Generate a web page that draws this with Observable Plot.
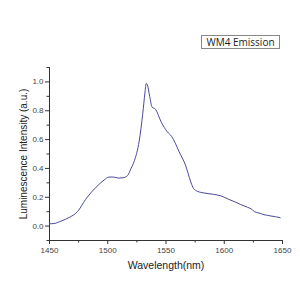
<!DOCTYPE html>
<html>
<head>
<meta charset="utf-8">
<script src="https://cdn.jsdelivr.net/npm/d3@7"></script>
<script src="https://cdn.jsdelivr.net/npm/@observablehq/plot@0.6"></script>
<style>
  html, body { margin: 0; padding: 0; background: #fff; }
  #wrap { position: relative; width: 300px; height: 300px; }
  #title {
    position: absolute; left: 201px; top: 35px; width: 77px; height: 12px;
    border: 1px solid #888; font: 10px "Open Sans", "Liberation Sans", sans-serif;
    line-height: 12px; text-align: center; color: #222; background: #fff;
  }
</style>
</head>
<body>
<div id="wrap"><div id="title">WM4 Emission</div></div>
<script>
const wavelength = [1450, 1454, 1460, 1467, 1474, 1481, 1490, 1497, 1501, 1505, 1509, 1513, 1517, 1520, 1523, 1527, 1530, 1532, 1533, 1534, 1536, 1538, 1541, 1546, 1551, 1555, 1558, 1561, 1567, 1571, 1573, 1576, 1581, 1591, 1597, 1604, 1610, 1614, 1620, 1623, 1626, 1630, 1633, 1637, 1640, 1644, 1648];
const intensity  = [0.016, 0.018, 0.035, 0.06, 0.10, 0.185, 0.27, 0.32, 0.34, 0.34, 0.333, 0.335, 0.35, 0.40, 0.456, 0.59, 0.776, 0.93, 0.99, 0.98, 0.90, 0.826, 0.81, 0.72, 0.655, 0.62, 0.575, 0.52, 0.417, 0.3125, 0.27, 0.245, 0.232, 0.22, 0.21, 0.185, 0.165, 0.15, 0.13, 0.12, 0.10, 0.09, 0.081, 0.075, 0.07, 0.065, 0.058];
const xMajor = [1450, 1500, 1550, 1600, 1650];
const xMinor = [1475, 1525, 1575, 1625];
const yMajor = [0.0, 0.2, 0.4, 0.6, 0.8, 1.0];
const yMinor = [-0.1, 0.1, 0.3, 0.5, 0.7, 0.9, 1.1];
const xLabel = "Wavelength(nm)";
const yLabel = "Luminescence Intensity (a.u.)";

const data = wavelength.map((w, i) => ({w, v: intensity[i]}));
const font = '"Liberation Sans", Arial, sans-serif';

const chart = Plot.plot({
  width: 300, height: 300,
  marginLeft: 49, marginRight: 18, marginTop: 67, marginBottom: 60,
  style: {fontFamily: font, background: "#fff", color: "#333"},
  x: {domain: [1450, 1650]},
  y: {domain: [-0.1, 1.1]},
  marks: [
    Plot.axisX({ticks: xMajor, tickSize: 4, tickPadding: 3, fontSize: 8, tickFormat: d => String(d), label: null, stroke: "#333", fill: "#444"}),
    Plot.axisX({ticks: xMinor, tickSize: 2.5, tickFormat: () => "", label: null, stroke: "#333"}),
    Plot.axisY({ticks: yMajor, tickSize: 4, tickPadding: 2, fontSize: 8, tickFormat: d3.format(".1f"), label: null, stroke: "#333", fill: "#444"}),
    Plot.axisY({ticks: yMinor, tickSize: 2.5, tickFormat: () => "", label: null, stroke: "#333"}),
    Plot.ruleX([1450], {stroke: "#333", strokeWidth: 1}),
    Plot.ruleY([-0.1], {stroke: "#333", strokeWidth: 1}),
    Plot.text([xLabel], {frameAnchor: "bottom", dy: 28, fontSize: 10.5, fill: "#222"}),
    Plot.text([yLabel], {frameAnchor: "left", textAnchor: "middle", dx: -26, rotate: -90, fontSize: 10, fill: "#222"}),
    Plot.line(data, {x: "w", y: "v", stroke: "#4a4a9c", strokeWidth: 1, curve: "monotone-x"})
  ]
});
document.getElementById("wrap").prepend(chart);
chart.style.position = "absolute";
chart.style.left = "0"; chart.style.top = "0";
</script>
</body>
</html>
